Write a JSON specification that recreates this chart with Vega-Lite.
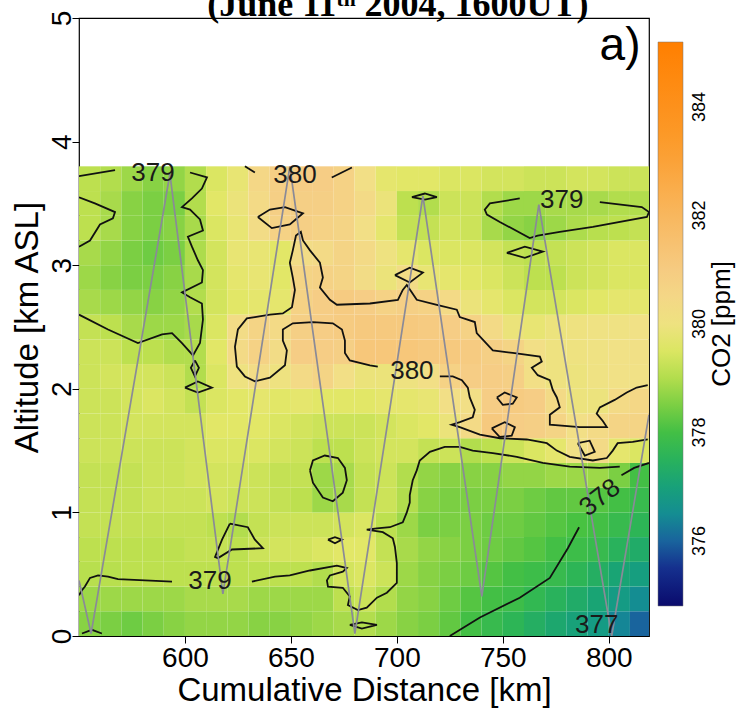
{
"$schema": "https://vega.github.io/schema/vega-lite/v6.json",
"width": 570, "height": 618,
"autosize": {"type": "none"},
"padding": {"left": 79, "top": 18, "right": 97, "bottom": 74},
"background": "white",
"config": {"view": {"stroke": "#000", "strokeWidth": 1.2}, "font": "Liberation Sans"},
"datasets": {
"grid": [
{"a":0,"d":550,"c":378.6},{"a":0,"d":560,"c":378.5},{"a":0,"d":570,"c":378.4},{"a":0,"d":580,"c":378.5},{"a":0,"d":590,"c":378.6},{"a":0,"d":600,"c":378.7},{"a":0,"d":610,"c":378.7},{"a":0,"d":620,"c":378.7},{"a":0,"d":630,"c":378.6},{"a":0,"d":640,"c":378.6},{"a":0,"d":650,"c":378.7},{"a":0,"d":660,"c":378.8},{"a":0,"d":670,"c":378.9},{"a":0,"d":680,"c":379.0},{"a":0,"d":690,"c":378.8},{"a":0,"d":700,"c":378.6},{"a":0,"d":710,"c":378.5},{"a":0,"d":720,"c":378.3},{"a":0,"d":730,"c":378.0},{"a":0,"d":740,"c":377.8},{"a":0,"d":750,"c":377.6},{"a":0,"d":760,"c":377.4},{"a":0,"d":770,"c":377.2},{"a":0,"d":780,"c":377.0},{"a":0,"d":790,"c":376.8},{"a":0,"d":800,"c":376.4},{"a":0,"d":810,"c":376.0},
{"a":0.2,"d":550,"c":378.8},{"a":0.2,"d":560,"c":378.8},{"a":0.2,"d":570,"c":378.8},{"a":0.2,"d":580,"c":378.8},{"a":0.2,"d":590,"c":378.8},{"a":0.2,"d":600,"c":378.9},{"a":0.2,"d":610,"c":378.9},{"a":0.2,"d":620,"c":378.9},{"a":0.2,"d":630,"c":378.8},{"a":0.2,"d":640,"c":378.8},{"a":0.2,"d":650,"c":378.8},{"a":0.2,"d":660,"c":378.8},{"a":0.2,"d":670,"c":379.1},{"a":0.2,"d":680,"c":379.3},{"a":0.2,"d":690,"c":379.0},{"a":0.2,"d":700,"c":378.7},{"a":0.2,"d":710,"c":378.6},{"a":0.2,"d":720,"c":378.4},{"a":0.2,"d":730,"c":378.2},{"a":0.2,"d":740,"c":378.0},{"a":0.2,"d":750,"c":377.9},{"a":0.2,"d":760,"c":377.7},{"a":0.2,"d":770,"c":377.5},{"a":0.2,"d":780,"c":377.3},{"a":0.2,"d":790,"c":377.1},{"a":0.2,"d":800,"c":376.8},{"a":0.2,"d":810,"c":376.5},
{"a":0.4,"d":550,"c":379.05},{"a":0.4,"d":560,"c":379.05},{"a":0.4,"d":570,"c":379.1},{"a":0.4,"d":580,"c":379.1},{"a":0.4,"d":590,"c":379.1},{"a":0.4,"d":600,"c":379.1},{"a":0.4,"d":610,"c":379.1},{"a":0.4,"d":620,"c":379.1},{"a":0.4,"d":630,"c":379.1},{"a":0.4,"d":640,"c":379.1},{"a":0.4,"d":650,"c":379.1},{"a":0.4,"d":660,"c":379.0},{"a":0.4,"d":670,"c":379.4},{"a":0.4,"d":680,"c":379.5},{"a":0.4,"d":690,"c":379.3},{"a":0.4,"d":700,"c":378.8},{"a":0.4,"d":710,"c":378.6},{"a":0.4,"d":720,"c":378.5},{"a":0.4,"d":730,"c":378.4},{"a":0.4,"d":740,"c":378.2},{"a":0.4,"d":750,"c":378.0},{"a":0.4,"d":760,"c":377.9},{"a":0.4,"d":770,"c":377.8},{"a":0.4,"d":780,"c":377.6},{"a":0.4,"d":790,"c":377.4},{"a":0.4,"d":800,"c":377.1},{"a":0.4,"d":810,"c":376.9},
{"a":0.6,"d":550,"c":379.1},{"a":0.6,"d":560,"c":379.1},{"a":0.6,"d":570,"c":379.1},{"a":0.6,"d":580,"c":379.1},{"a":0.6,"d":590,"c":379.1},{"a":0.6,"d":600,"c":379.2},{"a":0.6,"d":610,"c":379.2},{"a":0.6,"d":620,"c":379.1},{"a":0.6,"d":630,"c":379.3},{"a":0.6,"d":640,"c":379.4},{"a":0.6,"d":650,"c":379.4},{"a":0.6,"d":660,"c":379.5},{"a":0.6,"d":670,"c":379.6},{"a":0.6,"d":680,"c":379.6},{"a":0.6,"d":690,"c":379.2},{"a":0.6,"d":700,"c":378.9},{"a":0.6,"d":710,"c":378.7},{"a":0.6,"d":720,"c":378.6},{"a":0.6,"d":730,"c":378.5},{"a":0.6,"d":740,"c":378.4},{"a":0.6,"d":750,"c":378.3},{"a":0.6,"d":760,"c":378.2},{"a":0.6,"d":770,"c":378.0},{"a":0.6,"d":780,"c":377.9},{"a":0.6,"d":790,"c":377.8},{"a":0.6,"d":800,"c":377.5},{"a":0.6,"d":810,"c":377.3},
{"a":0.8,"d":550,"c":379.2},{"a":0.8,"d":560,"c":379.2},{"a":0.8,"d":570,"c":379.2},{"a":0.8,"d":580,"c":379.2},{"a":0.8,"d":590,"c":379.2},{"a":0.8,"d":600,"c":379.2},{"a":0.8,"d":610,"c":379.1},{"a":0.8,"d":620,"c":379.0},{"a":0.8,"d":630,"c":379.2},{"a":0.8,"d":640,"c":379.3},{"a":0.8,"d":650,"c":379.3},{"a":0.8,"d":660,"c":379.3},{"a":0.8,"d":670,"c":379.4},{"a":0.8,"d":680,"c":379.5},{"a":0.8,"d":690,"c":379.1},{"a":0.8,"d":700,"c":378.8},{"a":0.8,"d":710,"c":378.5},{"a":0.8,"d":720,"c":378.5},{"a":0.8,"d":730,"c":378.5},{"a":0.8,"d":740,"c":378.4},{"a":0.8,"d":750,"c":378.4},{"a":0.8,"d":760,"c":378.3},{"a":0.8,"d":770,"c":378.2},{"a":0.8,"d":780,"c":378.1},{"a":0.8,"d":790,"c":378.0},{"a":0.8,"d":800,"c":377.8},{"a":0.8,"d":810,"c":377.6},
{"a":1.0,"d":550,"c":379.2},{"a":1.0,"d":560,"c":379.2},{"a":1.0,"d":570,"c":379.2},{"a":1.0,"d":580,"c":379.3},{"a":1.0,"d":590,"c":379.3},{"a":1.0,"d":600,"c":379.3},{"a":1.0,"d":610,"c":379.4},{"a":1.0,"d":620,"c":379.3},{"a":1.0,"d":630,"c":379.3},{"a":1.0,"d":640,"c":379.2},{"a":1.0,"d":650,"c":379.1},{"a":1.0,"d":660,"c":378.8},{"a":1.0,"d":670,"c":378.9},{"a":1.0,"d":680,"c":379.2},{"a":1.0,"d":690,"c":379.3},{"a":1.0,"d":700,"c":379.0},{"a":1.0,"d":710,"c":378.6},{"a":1.0,"d":720,"c":378.5},{"a":1.0,"d":730,"c":378.5},{"a":1.0,"d":740,"c":378.5},{"a":1.0,"d":750,"c":378.5},{"a":1.0,"d":760,"c":378.4},{"a":1.0,"d":770,"c":378.3},{"a":1.0,"d":780,"c":378.3},{"a":1.0,"d":790,"c":378.2},{"a":1.0,"d":800,"c":378.0},{"a":1.0,"d":810,"c":377.8},
{"a":1.2,"d":550,"c":379.2},{"a":1.2,"d":560,"c":379.2},{"a":1.2,"d":570,"c":379.2},{"a":1.2,"d":580,"c":379.3},{"a":1.2,"d":590,"c":379.3},{"a":1.2,"d":600,"c":379.4},{"a":1.2,"d":610,"c":379.4},{"a":1.2,"d":620,"c":379.4},{"a":1.2,"d":630,"c":379.3},{"a":1.2,"d":640,"c":379.2},{"a":1.2,"d":650,"c":379.2},{"a":1.2,"d":660,"c":378.8},{"a":1.2,"d":670,"c":378.9},{"a":1.2,"d":680,"c":379.2},{"a":1.2,"d":690,"c":379.3},{"a":1.2,"d":700,"c":379.0},{"a":1.2,"d":710,"c":378.7},{"a":1.2,"d":720,"c":378.6},{"a":1.2,"d":730,"c":378.6},{"a":1.2,"d":740,"c":378.6},{"a":1.2,"d":750,"c":378.7},{"a":1.2,"d":760,"c":378.7},{"a":1.2,"d":770,"c":378.8},{"a":1.2,"d":780,"c":378.8},{"a":1.2,"d":790,"c":378.8},{"a":1.2,"d":800,"c":378.5},{"a":1.2,"d":810,"c":378.0},
{"a":1.4,"d":550,"c":379.3},{"a":1.4,"d":560,"c":379.3},{"a":1.4,"d":570,"c":379.3},{"a":1.4,"d":580,"c":379.3},{"a":1.4,"d":590,"c":379.3},{"a":1.4,"d":600,"c":379.4},{"a":1.4,"d":610,"c":379.5},{"a":1.4,"d":620,"c":379.5},{"a":1.4,"d":630,"c":379.5},{"a":1.4,"d":640,"c":379.4},{"a":1.4,"d":650,"c":379.3},{"a":1.4,"d":660,"c":379.1},{"a":1.4,"d":670,"c":379.1},{"a":1.4,"d":680,"c":379.3},{"a":1.4,"d":690,"c":379.4},{"a":1.4,"d":700,"c":379.4},{"a":1.4,"d":710,"c":379.2},{"a":1.4,"d":720,"c":379.3},{"a":1.4,"d":730,"c":379.0},{"a":1.4,"d":740,"c":379.1},{"a":1.4,"d":750,"c":379.3},{"a":1.4,"d":760,"c":379.5},{"a":1.4,"d":770,"c":379.7},{"a":1.4,"d":780,"c":380.1},{"a":1.4,"d":790,"c":380.4},{"a":1.4,"d":800,"c":379.7},{"a":1.4,"d":810,"c":379.5},
{"a":1.6,"d":550,"c":379.3},{"a":1.6,"d":560,"c":379.3},{"a":1.6,"d":570,"c":379.4},{"a":1.6,"d":580,"c":379.4},{"a":1.6,"d":590,"c":379.4},{"a":1.6,"d":600,"c":379.4},{"a":1.6,"d":610,"c":379.6},{"a":1.6,"d":620,"c":379.6},{"a":1.6,"d":630,"c":379.6},{"a":1.6,"d":640,"c":379.5},{"a":1.6,"d":650,"c":379.4},{"a":1.6,"d":660,"c":379.3},{"a":1.6,"d":670,"c":379.3},{"a":1.6,"d":680,"c":379.3},{"a":1.6,"d":690,"c":379.4},{"a":1.6,"d":700,"c":379.5},{"a":1.6,"d":710,"c":379.6},{"a":1.6,"d":720,"c":379.9},{"a":1.6,"d":730,"c":380.4},{"a":1.6,"d":740,"c":381.1},{"a":1.6,"d":750,"c":380.9},{"a":1.6,"d":760,"c":380.8},{"a":1.6,"d":770,"c":380.6},{"a":1.6,"d":780,"c":380.2},{"a":1.6,"d":790,"c":380.4},{"a":1.6,"d":800,"c":380.6},{"a":1.6,"d":810,"c":380.6},
{"a":1.8,"d":550,"c":379.3},{"a":1.8,"d":560,"c":379.3},{"a":1.8,"d":570,"c":379.4},{"a":1.8,"d":580,"c":379.5},{"a":1.8,"d":590,"c":379.4},{"a":1.8,"d":600,"c":379.2},{"a":1.8,"d":610,"c":379.5},{"a":1.8,"d":620,"c":379.6},{"a":1.8,"d":630,"c":379.7},{"a":1.8,"d":640,"c":379.6},{"a":1.8,"d":650,"c":379.7},{"a":1.8,"d":660,"c":379.6},{"a":1.8,"d":670,"c":379.6},{"a":1.8,"d":680,"c":379.6},{"a":1.8,"d":690,"c":379.7},{"a":1.8,"d":700,"c":379.7},{"a":1.8,"d":710,"c":379.8},{"a":1.8,"d":720,"c":380.2},{"a":1.8,"d":730,"c":380.2},{"a":1.8,"d":740,"c":380.9},{"a":1.8,"d":750,"c":381.0},{"a":1.8,"d":760,"c":380.9},{"a":1.8,"d":770,"c":380.4},{"a":1.8,"d":780,"c":379.95},{"a":1.8,"d":790,"c":379.95},{"a":1.8,"d":800,"c":380.4},{"a":1.8,"d":810,"c":380.5},
{"a":2.0,"d":550,"c":379.3},{"a":2.0,"d":560,"c":379.4},{"a":2.0,"d":570,"c":379.4},{"a":2.0,"d":580,"c":379.4},{"a":2.0,"d":590,"c":379.3},{"a":2.0,"d":600,"c":379.0},{"a":2.0,"d":610,"c":379.5},{"a":2.0,"d":620,"c":380.0},{"a":2.0,"d":630,"c":380.3},{"a":2.0,"d":640,"c":380.0},{"a":2.0,"d":650,"c":380.4},{"a":2.0,"d":660,"c":380.6},{"a":2.0,"d":670,"c":380.2},{"a":2.0,"d":680,"c":379.9},{"a":2.0,"d":690,"c":379.9},{"a":2.0,"d":700,"c":380.0},{"a":2.0,"d":710,"c":380.2},{"a":2.0,"d":720,"c":380.7},{"a":2.0,"d":730,"c":380.9},{"a":2.0,"d":740,"c":380.9},{"a":2.0,"d":750,"c":380.8},{"a":2.0,"d":760,"c":380.2},{"a":2.0,"d":770,"c":380.0},{"a":2.0,"d":780,"c":379.95},{"a":2.0,"d":790,"c":380.05},{"a":2.0,"d":800,"c":380.1},{"a":2.0,"d":810,"c":380.1},
{"a":2.2,"d":550,"c":379.3},{"a":2.2,"d":560,"c":379.3},{"a":2.2,"d":570,"c":379.1},{"a":2.2,"d":580,"c":379.1},{"a":2.2,"d":590,"c":379.0},{"a":2.2,"d":600,"c":379.0},{"a":2.2,"d":610,"c":379.6},{"a":2.2,"d":620,"c":380.4},{"a":2.2,"d":630,"c":380.7},{"a":2.2,"d":640,"c":380.3},{"a":2.2,"d":650,"c":380.9},{"a":2.2,"d":660,"c":380.9},{"a":2.2,"d":670,"c":380.8},{"a":2.2,"d":680,"c":381.2},{"a":2.2,"d":690,"c":381.2},{"a":2.2,"d":700,"c":381.2},{"a":2.2,"d":710,"c":381.1},{"a":2.2,"d":720,"c":381.1},{"a":2.2,"d":730,"c":381.0},{"a":2.2,"d":740,"c":380.8},{"a":2.2,"d":750,"c":380.6},{"a":2.2,"d":760,"c":380.2},{"a":2.2,"d":770,"c":380.0},{"a":2.2,"d":780,"c":380.0},{"a":2.2,"d":790,"c":380.05},{"a":2.2,"d":800,"c":380.1},{"a":2.2,"d":810,"c":380.15},
{"a":2.4,"d":550,"c":379.2},{"a":2.4,"d":560,"c":379.1},{"a":2.4,"d":570,"c":378.9},{"a":2.4,"d":580,"c":378.8},{"a":2.4,"d":590,"c":378.8},{"a":2.4,"d":600,"c":378.9},{"a":2.4,"d":610,"c":379.5},{"a":2.4,"d":620,"c":380.3},{"a":2.4,"d":630,"c":380.6},{"a":2.4,"d":640,"c":380.4},{"a":2.4,"d":650,"c":380.8},{"a":2.4,"d":660,"c":380.9},{"a":2.4,"d":670,"c":381.0},{"a":2.4,"d":680,"c":381.1},{"a":2.4,"d":690,"c":381.1},{"a":2.4,"d":700,"c":381.1},{"a":2.4,"d":710,"c":381.0},{"a":2.4,"d":720,"c":380.9},{"a":2.4,"d":730,"c":380.7},{"a":2.4,"d":740,"c":380.4},{"a":2.4,"d":750,"c":379.9},{"a":2.4,"d":760,"c":379.8},{"a":2.4,"d":770,"c":379.95},{"a":2.4,"d":780,"c":380.0},{"a":2.4,"d":790,"c":380.05},{"a":2.4,"d":800,"c":380.05},{"a":2.4,"d":810,"c":380.1},
{"a":2.6,"d":550,"c":378.9},{"a":2.6,"d":560,"c":378.8},{"a":2.6,"d":570,"c":378.7},{"a":2.6,"d":580,"c":378.6},{"a":2.6,"d":590,"c":378.7},{"a":2.6,"d":600,"c":379.0},{"a":2.6,"d":610,"c":379.4},{"a":2.6,"d":620,"c":379.6},{"a":2.6,"d":630,"c":379.7},{"a":2.6,"d":640,"c":379.7},{"a":2.6,"d":650,"c":380.7},{"a":2.6,"d":660,"c":380.9},{"a":2.6,"d":670,"c":381.0},{"a":2.6,"d":680,"c":380.9},{"a":2.6,"d":690,"c":380.7},{"a":2.6,"d":700,"c":380.8},{"a":2.6,"d":710,"c":380.7},{"a":2.6,"d":720,"c":380.4},{"a":2.6,"d":730,"c":379.9},{"a":2.6,"d":740,"c":379.7},{"a":2.6,"d":750,"c":379.5},{"a":2.6,"d":760,"c":379.4},{"a":2.6,"d":770,"c":379.4},{"a":2.6,"d":780,"c":379.5},{"a":2.6,"d":790,"c":379.6},{"a":2.6,"d":800,"c":379.7},{"a":2.6,"d":810,"c":379.7},
{"a":2.8,"d":550,"c":378.8},{"a":2.8,"d":560,"c":378.6},{"a":2.8,"d":570,"c":378.5},{"a":2.8,"d":580,"c":378.5},{"a":2.8,"d":590,"c":378.6},{"a":2.8,"d":600,"c":378.9},{"a":2.8,"d":610,"c":379.4},{"a":2.8,"d":620,"c":379.7},{"a":2.8,"d":630,"c":379.8},{"a":2.8,"d":640,"c":379.6},{"a":2.8,"d":650,"c":380.6},{"a":2.8,"d":660,"c":380.7},{"a":2.8,"d":670,"c":380.6},{"a":2.8,"d":680,"c":380.3},{"a":2.8,"d":690,"c":379.9},{"a":2.8,"d":700,"c":380.3},{"a":2.8,"d":710,"c":379.8},{"a":2.8,"d":720,"c":379.7},{"a":2.8,"d":730,"c":379.6},{"a":2.8,"d":740,"c":379.5},{"a":2.8,"d":750,"c":379.3},{"a":2.8,"d":760,"c":379.1},{"a":2.8,"d":770,"c":379.1},{"a":2.8,"d":780,"c":379.3},{"a":2.8,"d":790,"c":379.4},{"a":2.8,"d":800,"c":379.5},{"a":2.8,"d":810,"c":379.5},
{"a":3.0,"d":550,"c":378.9},{"a":3.0,"d":560,"c":378.7},{"a":3.0,"d":570,"c":378.5},{"a":3.0,"d":580,"c":378.4},{"a":3.0,"d":590,"c":378.5},{"a":3.0,"d":600,"c":378.95},{"a":3.0,"d":610,"c":379.4},{"a":3.0,"d":620,"c":379.8},{"a":3.0,"d":630,"c":379.8},{"a":3.0,"d":640,"c":379.6},{"a":3.0,"d":650,"c":380.3},{"a":3.0,"d":660,"c":380.4},{"a":3.0,"d":670,"c":380.6},{"a":3.0,"d":680,"c":380.4},{"a":3.0,"d":690,"c":380.0},{"a":3.0,"d":700,"c":379.7},{"a":3.0,"d":710,"c":379.5},{"a":3.0,"d":720,"c":379.5},{"a":3.0,"d":730,"c":379.5},{"a":3.0,"d":740,"c":379.4},{"a":3.0,"d":750,"c":379.2},{"a":3.0,"d":760,"c":379.1},{"a":3.0,"d":770,"c":379.2},{"a":3.0,"d":780,"c":379.3},{"a":3.0,"d":790,"c":379.4},{"a":3.0,"d":800,"c":379.5},{"a":3.0,"d":810,"c":379.5},
{"a":3.2,"d":550,"c":379.1},{"a":3.2,"d":560,"c":378.9},{"a":3.2,"d":570,"c":378.6},{"a":3.2,"d":580,"c":378.5},{"a":3.2,"d":590,"c":378.6},{"a":3.2,"d":600,"c":378.9},{"a":3.2,"d":610,"c":379.5},{"a":3.2,"d":620,"c":379.8},{"a":3.2,"d":630,"c":380.3},{"a":3.2,"d":640,"c":380.7},{"a":3.2,"d":650,"c":380.8},{"a":3.2,"d":660,"c":380.7},{"a":3.2,"d":670,"c":380.6},{"a":3.2,"d":680,"c":380.2},{"a":3.2,"d":690,"c":379.7},{"a":3.2,"d":700,"c":379.2},{"a":3.2,"d":710,"c":379.2},{"a":3.2,"d":720,"c":379.4},{"a":3.2,"d":730,"c":379.3},{"a":3.2,"d":740,"c":378.9},{"a":3.2,"d":750,"c":378.7},{"a":3.2,"d":760,"c":378.6},{"a":3.2,"d":770,"c":378.8},{"a":3.2,"d":780,"c":378.95},{"a":3.2,"d":790,"c":379.05},{"a":3.2,"d":800,"c":379.1},{"a":3.2,"d":810,"c":379.2},
{"a":3.4,"d":550,"c":379.1},{"a":3.4,"d":560,"c":378.9},{"a":3.4,"d":570,"c":378.6},{"a":3.4,"d":580,"c":378.5},{"a":3.4,"d":590,"c":378.5},{"a":3.4,"d":600,"c":379.0},{"a":3.4,"d":610,"c":379.6},{"a":3.4,"d":620,"c":379.9},{"a":3.4,"d":630,"c":380.4},{"a":3.4,"d":640,"c":380.8},{"a":3.4,"d":650,"c":380.8},{"a":3.4,"d":660,"c":380.8},{"a":3.4,"d":670,"c":380.7},{"a":3.4,"d":680,"c":380.4},{"a":3.4,"d":690,"c":379.9},{"a":3.4,"d":700,"c":379.1},{"a":3.4,"d":710,"c":379.0},{"a":3.4,"d":720,"c":379.3},{"a":3.4,"d":730,"c":379.3},{"a":3.4,"d":740,"c":379.0},{"a":3.4,"d":750,"c":378.8},{"a":3.4,"d":760,"c":378.8},{"a":3.4,"d":770,"c":378.9},{"a":3.4,"d":780,"c":378.9},{"a":3.4,"d":790,"c":378.9},{"a":3.4,"d":800,"c":379.0},{"a":3.4,"d":810,"c":379.0},
{"a":3.6,"d":550,"c":379.1},{"a":3.6,"d":560,"c":379.0},{"a":3.6,"d":570,"c":378.8},{"a":3.6,"d":580,"c":378.6},{"a":3.6,"d":590,"c":378.7},{"a":3.6,"d":600,"c":379.0},{"a":3.6,"d":610,"c":379.5},{"a":3.6,"d":620,"c":379.8},{"a":3.6,"d":630,"c":380.5},{"a":3.6,"d":640,"c":380.8},{"a":3.6,"d":650,"c":380.9},{"a":3.6,"d":660,"c":380.9},{"a":3.6,"d":670,"c":380.7},{"a":3.6,"d":680,"c":380.2},{"a":3.6,"d":690,"c":379.7},{"a":3.6,"d":700,"c":379.6},{"a":3.6,"d":710,"c":379.6},{"a":3.6,"d":720,"c":379.5},{"a":3.6,"d":730,"c":379.5},{"a":3.6,"d":740,"c":379.4},{"a":3.6,"d":750,"c":379.4},{"a":3.6,"d":760,"c":379.3},{"a":3.6,"d":770,"c":379.3},{"a":3.6,"d":780,"c":379.4},{"a":3.6,"d":790,"c":379.4},{"a":3.6,"d":800,"c":379.3},{"a":3.6,"d":810,"c":379.3}
],
"contours": [
{"g":"A1","o":1,"d":550.0,"a":3.72},{"g":"A1","o":2,"d":567.0,"a":3.77},
{"g":"A2","o":1,"d":602.4,"a":3.75},{"g":"A2","o":2,"d":610.4,"a":3.71},{"g":"A2","o":3,"d":608.0,"a":3.62},{"g":"A2","o":4,"d":603.3,"a":3.54},{"g":"A2","o":5,"d":598.6,"a":3.47},{"g":"A2","o":6,"d":602.4,"a":3.45},{"g":"A2","o":7,"d":607.1,"a":3.37},{"g":"A2","o":8,"d":608.5,"a":3.28},{"g":"A2","o":9,"d":601.4,"a":3.23},{"g":"A2","o":10,"d":603.3,"a":3.15},{"g":"A2","o":11,"d":606.1,"a":3.04},{"g":"A2","o":12,"d":608.5,"a":2.96},{"g":"A2","o":13,"d":608.0,"a":2.86},{"g":"A2","o":14,"d":598.6,"a":2.78},{"g":"A2","o":15,"d":602.4,"a":2.74},{"g":"A2","o":16,"d":608.0,"a":2.69},{"g":"A2","o":17,"d":608.5,"a":2.56},{"g":"A2","o":18,"d":607.1,"a":2.37},{"g":"A2","o":19,"d":603.8,"a":2.27},{"g":"A2","o":20,"d":598.6,"a":2.37},{"g":"A2","o":21,"d":593.9,"a":2.45},{"g":"A2","o":22,"d":589.2,"a":2.44},{"g":"A2","o":23,"d":577.8,"a":2.37},{"g":"A2","o":24,"d":563.7,"a":2.48},{"g":"A2","o":25,"d":550.0,"a":2.60},
{"g":"B","o":1,"d":550,"a":3.55},{"g":"B","o":2,"d":557.5,"a":3.50},{"g":"B","o":3,"d":567.0,"a":3.43},{"g":"B","o":4,"d":566.0,"a":3.38},{"g":"B","o":5,"d":559.9,"a":3.33},{"g":"B","o":6,"d":555.2,"a":3.20},{"g":"B","o":7,"d":550,"a":3.15},
{"g":"L1","o":1,"d":604.7,"a":2.23},{"g":"L1","o":2,"d":606.6,"a":2.17},{"g":"L1","o":3,"d":604.7,"a":2.10},{"g":"L1","o":4,"d":602.8,"a":2.17},{"g":"L1","o":5,"d":604.7,"a":2.23},
{"g":"L2","o":1,"d":600.0,"a":2.01},{"g":"L2","o":2,"d":606.1,"a":2.06},{"g":"L2","o":3,"d":612.7,"a":2.01},{"g":"L2","o":4,"d":606.1,"a":1.97},{"g":"L2","o":5,"d":600.0,"a":2.01},
{"g":"C1","o":1,"d":628.3,"a":3.80},{"g":"C1","o":2,"d":633.0,"a":3.75},
{"g":"C2","o":1,"d":669.3,"a":3.71},{"g":"C2","o":2,"d":678.8,"a":3.79},
{"g":"E","o":1,"d":634.4,"a":3.39},{"g":"E","o":2,"d":640.1,"a":3.45},{"g":"E","o":3,"d":647.2,"a":3.47},{"g":"E","o":4,"d":655.7,"a":3.42},{"g":"E","o":5,"d":649.5,"a":3.33},{"g":"E","o":6,"d":641.0,"a":3.30},{"g":"E","o":7,"d":634.4,"a":3.39},
{"g":"D1","o":1,"d":818.4,"a":2.03},{"g":"D1","o":2,"d":813.2,"a":2.01},{"g":"D1","o":3,"d":808.5,"a":1.97},{"g":"D1","o":4,"d":802.8,"a":1.91},{"g":"D1","o":5,"d":795.8,"a":1.85},{"g":"D1","o":6,"d":794.3,"a":1.80},{"g":"D1","o":7,"d":797.2,"a":1.74},{"g":"D1","o":8,"d":799.1,"a":1.69},{"g":"D1","o":9,"d":786.3,"a":1.69},{"g":"D1","o":10,"d":772.2,"a":1.71},{"g":"D1","o":11,"d":772.2,"a":1.79},{"g":"D1","o":12,"d":776.9,"a":1.85},{"g":"D1","o":13,"d":775.5,"a":1.93},{"g":"D1","o":14,"d":773.6,"a":1.99},{"g":"D1","o":15,"d":772.2,"a":2.07},{"g":"D1","o":16,"d":766.5,"a":2.11},{"g":"D1","o":17,"d":763.7,"a":2.17},{"g":"D1","o":18,"d":768.4,"a":2.22},{"g":"D1","o":19,"d":767.5,"a":2.26},{"g":"D1","o":20,"d":754.7,"a":2.29},{"g":"D1","o":21,"d":745.3,"a":2.31},{"g":"D1","o":22,"d":737.7,"a":2.45},{"g":"D1","o":23,"d":736.8,"a":2.54},{"g":"D1","o":24,"d":729.7,"a":2.58},{"g":"D1","o":25,"d":728.3,"a":2.64},{"g":"D1","o":26,"d":718.9,"a":2.68},{"g":"D1","o":27,"d":709.4,"a":2.72},{"g":"D1","o":28,"d":707.1,"a":2.78},{"g":"D1","o":29,"d":704.7,"a":2.84},{"g":"D1","o":30,"d":702.8,"a":2.80},{"g":"D1","o":31,"d":700.5,"a":2.72},{"g":"D1","o":32,"d":687.3,"a":2.69},{"g":"D1","o":33,"d":671.7,"a":2.68},{"g":"D1","o":34,"d":668.4,"a":2.72},{"g":"D1","o":35,"d":663.7,"a":2.82},{"g":"D1","o":36,"d":665.1,"a":2.90},{"g":"D1","o":37,"d":663.7,"a":3.02},{"g":"D1","o":38,"d":659.0,"a":3.12},{"g":"D1","o":39,"d":655.7,"a":3.20},{"g":"D1","o":40,"d":654.7,"a":3.27},{"g":"D1","o":41,"d":652.4,"a":3.24},{"g":"D1","o":42,"d":650.9,"a":3.12},{"g":"D1","o":43,"d":649.5,"a":3.02},{"g":"D1","o":44,"d":650.9,"a":2.90},{"g":"D1","o":45,"d":651.9,"a":2.80},{"g":"D1","o":46,"d":650.5,"a":2.66},{"g":"D1","o":47,"d":646.2,"a":2.61},{"g":"D1","o":48,"d":640.1,"a":2.60},{"g":"D1","o":49,"d":633.0,"a":2.58},{"g":"D1","o":50,"d":629.2,"a":2.57},{"g":"D1","o":51,"d":625.0,"a":2.48},{"g":"D1","o":52,"d":623.6,"a":2.34},{"g":"D1","o":53,"d":624.5,"a":2.18},{"g":"D1","o":54,"d":628.3,"a":2.10},{"g":"D1","o":55,"d":633.0,"a":2.06},{"g":"D1","o":56,"d":640.1,"a":2.09},{"g":"D1","o":57,"d":647.2,"a":2.19},{"g":"D1","o":58,"d":648.1,"a":2.31},{"g":"D1","o":59,"d":646.2,"a":2.39},{"g":"D1","o":60,"d":646.2,"a":2.48},{"g":"D1","o":61,"d":650.9,"a":2.53},{"g":"D1","o":62,"d":660.4,"a":2.54},{"g":"D1","o":63,"d":669.8,"a":2.53},{"g":"D1","o":64,"d":674.1,"a":2.48},{"g":"D1","o":65,"d":675.5,"a":2.39},{"g":"D1","o":66,"d":675.5,"a":2.29},{"g":"D1","o":67,"d":677.8,"a":2.23},{"g":"D1","o":68,"d":687.3,"a":2.19},{"g":"D1","o":69,"d":691.0,"a":2.18},
{"g":"D2","o":1,"d":720.3,"a":2.10},{"g":"D2","o":2,"d":726.4,"a":2.10},{"g":"D2","o":3,"d":730.7,"a":2.07},{"g":"D2","o":4,"d":733.5,"a":2.01},{"g":"D2","o":5,"d":734.4,"a":1.93},{"g":"D2","o":6,"d":736.8,"a":1.83},{"g":"D2","o":7,"d":735.8,"a":1.77},{"g":"D2","o":8,"d":729.7,"a":1.73},{"g":"D2","o":9,"d":725.9,"a":1.71},{"g":"D2","o":10,"d":729.7,"a":1.69},{"g":"D2","o":11,"d":739.2,"a":1.63},{"g":"D2","o":12,"d":748.6,"a":1.60},{"g":"D2","o":13,"d":761.3,"a":1.59},{"g":"D2","o":14,"d":770.8,"a":1.56},{"g":"D2","o":15,"d":775.5,"a":1.50},{"g":"D2","o":16,"d":781.6,"a":1.45},{"g":"D2","o":17,"d":792.5,"a":1.42},{"g":"D2","o":18,"d":799.1,"a":1.44},{"g":"D2","o":19,"d":801.9,"a":1.50},{"g":"D2","o":20,"d":804.2,"a":1.56},{"g":"D2","o":21,"d":811.3,"a":1.57},{"g":"D2","o":22,"d":818.4,"a":1.59},
{"g":"P1","o":1,"d":747.2,"a":1.93},{"g":"P1","o":2,"d":750.9,"a":1.97},{"g":"P1","o":3,"d":756.6,"a":1.93},{"g":"P1","o":4,"d":754.7,"a":1.88},{"g":"P1","o":5,"d":750.0,"a":1.87},{"g":"P1","o":6,"d":747.2,"a":1.93},
{"g":"P2","o":1,"d":744.8,"a":1.68},{"g":"P2","o":2,"d":750.9,"a":1.73},{"g":"P2","o":3,"d":755.7,"a":1.69},{"g":"P2","o":4,"d":754.2,"a":1.62},{"g":"P2","o":5,"d":748.6,"a":1.61},{"g":"P2","o":6,"d":744.8,"a":1.68},
{"g":"P3","o":1,"d":785.4,"a":1.56},{"g":"P3","o":2,"d":791.0,"a":1.58},{"g":"P3","o":3,"d":793.4,"a":1.49},{"g":"P3","o":4,"d":788.7,"a":1.46},{"g":"P3","o":5,"d":785.4,"a":1.56},
{"g":"T1","o":1,"d":707.1,"a":3.55},{"g":"T1","o":2,"d":713.2,"a":3.58},{"g":"T1","o":3,"d":718.9,"a":3.55},{"g":"T1","o":4,"d":713.2,"a":3.53},{"g":"T1","o":5,"d":707.1,"a":3.55},
{"g":"T2","o":1,"d":699.1,"a":2.92},{"g":"T2","o":2,"d":706.1,"a":2.98},{"g":"T2","o":3,"d":712.3,"a":2.94},{"g":"T2","o":4,"d":706.1,"a":2.86},{"g":"T2","o":5,"d":699.1,"a":2.92},
{"g":"F","o":1,"d":758.0,"a":3.54},{"g":"F","o":2,"d":743.9,"a":3.50},{"g":"F","o":3,"d":741.5,"a":3.45},{"g":"F","o":4,"d":742.5,"a":3.41},{"g":"F","o":5,"d":748.6,"a":3.35},{"g":"F","o":6,"d":762.7,"a":3.22},{"g":"F","o":7,"d":766.5,"a":3.24},{"g":"F","o":8,"d":776.9,"a":3.27},{"g":"F","o":9,"d":792.5,"a":3.31},{"g":"F","o":10,"d":818.0,"a":3.39},{"g":"F","o":11,"d":819,"a":3.43},{"g":"F","o":12,"d":815.6,"a":3.47},{"g":"F","o":13,"d":795.8,"a":3.51},
{"g":"FD","o":1,"d":751.9,"a":3.10},{"g":"FD","o":2,"d":760.4,"a":3.15},{"g":"FD","o":3,"d":768.9,"a":3.11},{"g":"FD","o":4,"d":760.4,"a":3.06},{"g":"FD","o":5,"d":751.9,"a":3.10},
{"g":"G1","o":1,"d":550,"a":0.33},{"g":"G1","o":2,"d":551.4,"a":0.37},{"g":"G1","o":3,"d":552.8,"a":0.40},{"g":"G1","o":4,"d":555.2,"a":0.47},{"g":"G1","o":5,"d":559.0,"a":0.49},{"g":"G1","o":6,"d":563.7,"a":0.48},{"g":"G1","o":7,"d":568.4,"a":0.46},{"g":"G1","o":8,"d":593.9,"a":0.44},
{"g":"G2","o":1,"d":631.6,"a":0.44},{"g":"G2","o":2,"d":642.5,"a":0.48},{"g":"G2","o":3,"d":649.5,"a":0.49},{"g":"G2","o":4,"d":659.0,"a":0.53},{"g":"G2","o":5,"d":671.7,"a":0.57},{"g":"G2","o":6,"d":676.4,"a":0.55},{"g":"G2","o":7,"d":674.5,"a":0.52},{"g":"G2","o":8,"d":668.4,"a":0.49},{"g":"G2","o":9,"d":667.0,"a":0.45},{"g":"G2","o":10,"d":667.5,"a":0.40},{"g":"G2","o":11,"d":674.5,"a":0.39},{"g":"G2","o":12,"d":677.8,"a":0.32},{"g":"G2","o":13,"d":676.9,"a":0.25},{"g":"G2","o":14,"d":681.6,"a":0.21},{"g":"G2","o":15,"d":685.8,"a":0.23},{"g":"G2","o":16,"d":690.6,"a":0.31},{"g":"G2","o":17,"d":695.3,"a":0.35},{"g":"G2","o":18,"d":700.0,"a":0.43},{"g":"G2","o":19,"d":700.0,"a":0.59},{"g":"G2","o":20,"d":699.1,"a":0.72},{"g":"G2","o":21,"d":698.1,"a":0.79},{"g":"G2","o":22,"d":693.4,"a":0.84},{"g":"G2","o":23,"d":685.8,"a":0.86},{"g":"G2","o":24,"d":690.6,"a":0.87},{"g":"G2","o":25,"d":696.7,"a":0.88},{"g":"G2","o":26,"d":702.8,"a":0.92},{"g":"G2","o":27,"d":704.7,"a":1.00},{"g":"G2","o":28,"d":706.1,"a":1.08},{"g":"G2","o":29,"d":706.1,"a":1.14},{"g":"G2","o":30,"d":707.5,"a":1.26},{"g":"G2","o":31,"d":709.4,"a":1.34},{"g":"G2","o":32,"d":710.8,"a":1.42},{"g":"G2","o":33,"d":715.6,"a":1.49},{"g":"G2","o":34,"d":722.6,"a":1.53},{"g":"G2","o":35,"d":729.7,"a":1.53},{"g":"G2","o":36,"d":735.8,"a":1.50},{"g":"G2","o":37,"d":745.3,"a":1.48},{"g":"G2","o":38,"d":756.6,"a":1.45},{"g":"G2","o":39,"d":768.9,"a":1.40},{"g":"G2","o":40,"d":781.6,"a":1.37},{"g":"G2","o":41,"d":795.8,"a":1.36},{"g":"G2","o":42,"d":805.2,"a":1.37},
{"g":"H","o":1,"d":659.0,"a":1.34},{"g":"H","o":2,"d":660.4,"a":1.24},{"g":"H","o":3,"d":665.1,"a":1.12},{"g":"H","o":4,"d":669.8,"a":1.09},{"g":"H","o":5,"d":674.5,"a":1.16},{"g":"H","o":6,"d":676.4,"a":1.26},{"g":"H","o":7,"d":675.5,"a":1.36},{"g":"H","o":8,"d":672.2,"a":1.44},{"g":"H","o":9,"d":666.0,"a":1.46},{"g":"H","o":10,"d":660.4,"a":1.42},{"g":"H","o":11,"d":659.0,"a":1.34},
{"g":"S1","o":1,"d":667.5,"a":0.78},{"g":"S1","o":2,"d":670.8,"a":0.80},{"g":"S1","o":3,"d":674.1,"a":0.78},{"g":"S1","o":4,"d":670.8,"a":0.75},{"g":"S1","o":5,"d":667.5,"a":0.78},
{"g":"S2","o":1,"d":677.8,"a":0.09},{"g":"S2","o":2,"d":683.5,"a":0.11},{"g":"S2","o":3,"d":690.6,"a":0.09},{"g":"S2","o":4,"d":683.5,"a":0.06},{"g":"S2","o":5,"d":677.8,"a":0.09},
{"g":"S3","o":1,"d":551.4,"a":0.02},{"g":"S3","o":2,"d":556.1,"a":0.05},{"g":"S3","o":3,"d":560.8,"a":0.02},
{"g":"K","o":1,"d":621.2,"a":0.91},{"g":"K","o":2,"d":629.7,"a":0.88},{"g":"K","o":3,"d":633.0,"a":0.78},{"g":"K","o":4,"d":636.8,"a":0.71},{"g":"K","o":5,"d":622.2,"a":0.70},{"g":"K","o":6,"d":615.6,"a":0.63},{"g":"K","o":7,"d":614.2,"a":0.64},{"g":"K","o":8,"d":617.5,"a":0.78},{"g":"K","o":9,"d":621.2,"a":0.91},
{"g":"M1","o":1,"d":725.0,"a":0.0},{"g":"M1","o":2,"d":739.2,"a":0.15},{"g":"M1","o":3,"d":758.0,"a":0.31},{"g":"M1","o":4,"d":772.2,"a":0.47},{"g":"M1","o":5,"d":780.7,"a":0.71},{"g":"M1","o":6,"d":786,"a":0.88},
{"g":"M2","o":1,"d":806,"a":1.30},{"g":"M2","o":2,"d":812,"a":1.36},{"g":"M2","o":3,"d":819,"a":1.40}
],
"track": [
{"o":1,"d":550,"a":0.45},{"o":2,"d":555.7,"a":0.02},{"o":3,"d":592.9,"a":3.74},{"o":4,"d":617.9,"a":0.34},{"o":5,"d":649.5,"a":3.80},{"o":6,"d":680.2,"a":0.02},{"o":7,"d":712.3,"a":3.56},{"o":8,"d":740.1,"a":0.32},{"o":9,"d":767.0,"a":3.49},{"o":10,"d":801.4,"a":0.0},{"o":11,"d":819,"a":1.79}
],
"labels": [
{"t":"379","d":584.9,"a":3.75},{"t":"380","d":651.9,"a":3.73},{"t":"380","d":707.1,"a":2.14},{"t":"379","d":777.8,"a":3.53},{"t":"379","d":611.8,"a":0.445},{"t":"377","d":794.3,"a":0.09}
]
},
"layer": [
{"data": {"name": "grid"},
 "transform": [{"calculate": "datum.d + 10", "as": "d2"}, {"calculate": "datum.a + 0.2", "as": "a2"}],
 "mark": {"type": "rect", "clip": true},
 "encoding": {
  "x": {"field": "d", "type": "quantitative", "scale": {"domain": [550, 819], "nice": false, "zero": false},
        "axis": {"title": "Cumulative Distance [km]", "values": [600, 650, 700, 750, 800], "format": "d", "grid": false, "domain": false, "tickSize": 7, "tickColor": "#000", "tickWidth": 1, "labelFontSize": 28, "labelColor": "#000", "labelPadding": 1, "titleFontSize": 33, "titleFontWeight": "normal", "titleColor": "#000", "titlePadding": 2}},
  "x2": {"field": "d2"},
  "y": {"field": "a", "type": "quantitative", "scale": {"domain": [0, 5], "nice": false, "zero": false},
        "axis": {"title": "Altitude [km ASL]", "values": [0, 1, 2, 3, 4, 5], "format": "d", "grid": false, "domain": false, "tickSize": 7, "tickColor": "#000", "tickWidth": 1, "labelFontSize": 28, "labelColor": "#000", "labelAngle": -90, "labelAlign": "center", "labelBaseline": "bottom", "labelPadding": -4, "titleFontSize": 33, "titleFontWeight": "normal", "titleColor": "#000", "titlePadding": 4}},
  "y2": {"field": "a2"},
  "color": {"field": "c", "type": "quantitative",
   "scale": {"domain": [374.8, 375.5, 376.1, 376.6, 377.1, 377.6, 378.1, 378.6, 379.1, 379.6, 380.1, 380.9, 382.0, 383.3, 385.2],
             "range": ["#0a0a6c", "#15308e", "#1a6fa0", "#12958f", "#19a474", "#2db556", "#48c241", "#88d244", "#bde04f", "#e2e767", "#f1e186", "#f6cd85", "#f8b75e", "#fc9c2c", "#ff7f00"],
             "interpolate": "rgb"},
   "legend": {"orient": "none", "legendX": 579, "legendY": 24, "direction": "vertical", "gradientLength": 564, "gradientThickness": 25, "gradientStrokeColor": "#777", "gradientStrokeWidth": 0.5,
              "values": [376, 378, 380, 382, 384], "labelFontSize": 18, "labelColor": "#000", "labelOffset": 8,
              "title": "CO2 [ppm]", "titleOrient": "right", "titleAnchor": "middle", "titleFontSize": 26, "titleFontWeight": "normal", "titleColor": "#000", "titlePadding": 0,
              "encode": {"labels": {"update": {"angle": {"value": -90}, "align": {"value": "center"}, "baseline": {"value": "top"}}},
                         "title": {"update": {"angle": {"value": 270}, "baseline": {"value": "top"}}}}}}
 }},
{"data": {"name": "contours"},
 "mark": {"type": "line", "color": "#111", "strokeWidth": 1.8, "clip": true},
 "encoding": {"x": {"field": "d", "type": "quantitative"}, "y": {"field": "a", "type": "quantitative"}, "detail": {"field": "g"}, "order": {"field": "o"}}},
{"data": {"name": "track"},
 "mark": {"type": "line", "color": "#8a8a98", "strokeWidth": 1.7, "clip": true},
 "encoding": {"x": {"field": "d", "type": "quantitative"}, "y": {"field": "a", "type": "quantitative"}, "order": {"field": "o"}}},
{"data": {"name": "labels"},
 "mark": {"type": "text", "font": "Liberation Sans", "fontSize": 26, "color": "#1a1a1a", "align": "center", "baseline": "middle"},
 "encoding": {"x": {"field": "d", "type": "quantitative"}, "y": {"field": "a", "type": "quantitative"}, "text": {"field": "t"}}},
{"data": {"values": [{"t": "378", "d": 795.8, "a": 1.12}]},
 "mark": {"type": "text", "font": "Liberation Sans", "fontSize": 26, "color": "#1a1a1a", "align": "center", "baseline": "middle", "angle": -38},
 "encoding": {"x": {"field": "d", "type": "quantitative"}, "y": {"field": "a", "type": "quantitative"}, "text": {"field": "t"}}},
{"data": {"values": [{"t": "a)"}]},
 "mark": {"type": "text", "font": "Liberation Sans", "fontSize": 46, "color": "#000", "align": "right", "baseline": "alphabetic"},
 "encoding": {"x": {"datum": 815}, "y": {"datum": 4.66}, "text": {"field": "t"}}},
{"data": {"values": [{"t": "(June 11ᵗʰ 2004, 1600UT)"}]},
 "mark": {"type": "text", "font": "Liberation Serif", "fontSize": 36, "fontWeight": "bold", "color": "#000", "align": "center", "baseline": "alphabetic", "clip": false},
 "encoding": {"x": {"datum": 700.5}, "y": {"datum": 5.015}, "text": {"field": "t"}}}
]
}
